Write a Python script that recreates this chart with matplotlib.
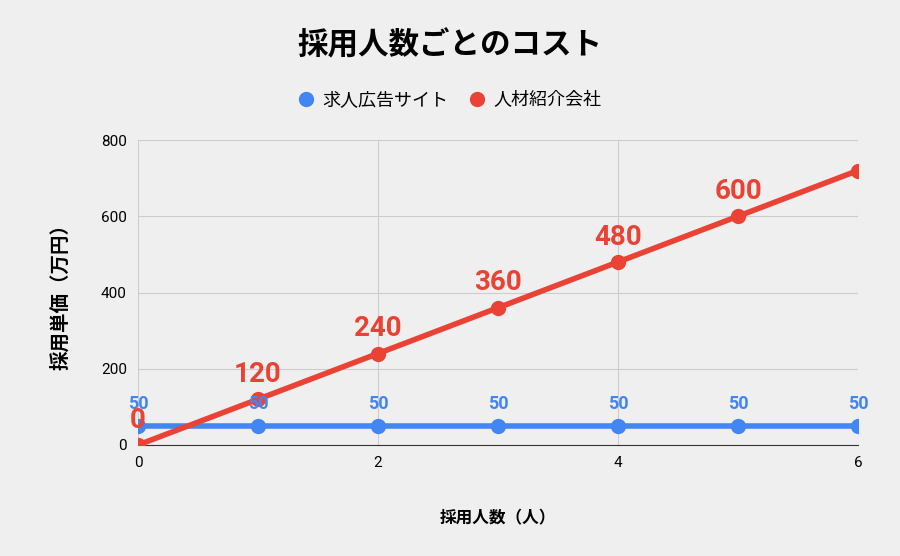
import matplotlib
matplotlib.use("Agg")
import matplotlib.pyplot as plt

plt.rcParams['font.family'] = ['Noto Sans CJK JP', 'DejaVu Sans']
num_font = ['Roboto', 'DejaVu Sans']

people = [0, 1, 2, 3, 4, 5, 6]
job_site = [50, 50, 50, 50, 50, 50, 50]
agency = [0, 120, 240, 360, 480, 600, 720]
agency_labels = ['0', '120', '240', '360', '480', '600', '']

blue = '#4285f4'
red = '#ea4335'
bg = '#efefef'

fig = plt.figure(figsize=(9, 5.56), dpi=100, facecolor=bg)
ax = fig.add_axes([138 / 900, 1 - 445 / 556, 720 / 900, 305 / 556], facecolor=bg)

ax.plot(people, job_site, color=blue, lw=4, marker='o', ms=10, zorder=3, label='求人広告サイト')
ax.plot(people, agency, color=red, lw=4, marker='o', ms=10, zorder=4, label='人材紹介会社')

for x, y in zip(people, job_site):
    ax.text(x, y + 34, str(y), color=blue, fontsize=13, fontweight='bold', family=num_font,
            ha='center', va='bottom', zorder=5)
for x, y, t in zip(people, agency, agency_labels):
    if t:
        ax.text(x, y + 30, t, color=red, fontsize=20, fontweight='bold', family=num_font,
                ha='center', va='bottom', zorder=6)

ax.set_xlim(0, 6)
ax.set_ylim(0, 800)
ax.set_xticks([0, 2, 4, 6])
ax.set_yticks([0, 200, 400, 600, 800])
ax.grid(True, color='#cccccc', lw=0.8)
ax.tick_params(length=0, labelsize=11, pad=8)
for lbl in ax.get_xticklabels() + ax.get_yticklabels():
    lbl.set_family(num_font)
for s in ['top', 'right', 'left']:
    ax.spines[s].set_visible(False)
ax.spines['bottom'].set_color('#333333')

ax.set_xlabel('採用人数（人）', fontsize=12, fontweight='bold', labelpad=28)
ax.set_ylabel('採用単価（万円）', fontsize=14, fontweight='bold', labelpad=22)

fig.text(0.5, 1 - 45 / 556, '採用人数ごとのコスト', ha='center', va='center', fontsize=22, fontweight='bold')
leg = fig.legend(loc='center', bbox_to_anchor=(0.5, 1 - 100 / 556), ncol=2, frameon=False,
                 fontsize=13, handlelength=0.8, columnspacing=1.2, handletextpad=0.5)
for h in leg.legend_handles:
    h.set_linestyle('none')

fig.savefig('out.png', dpi=100, facecolor=bg)
